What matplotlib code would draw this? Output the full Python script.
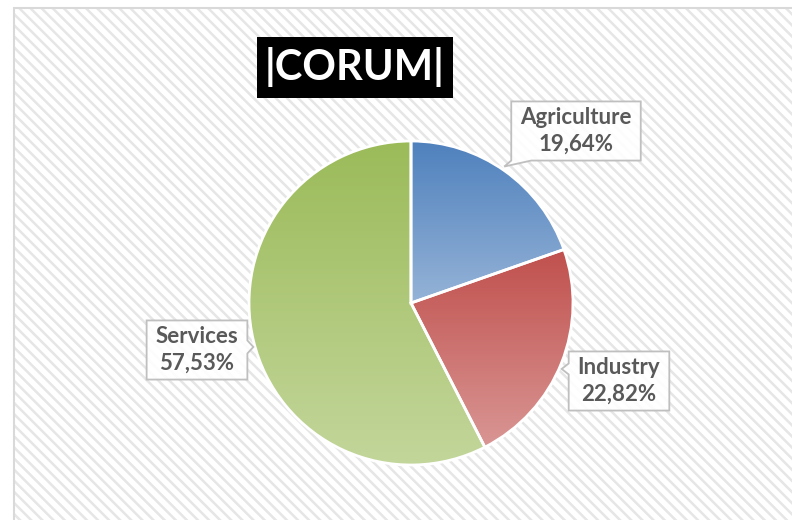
import numpy as np
import matplotlib.pyplot as plt
from matplotlib.colors import LinearSegmentedColormap
from matplotlib.patches import Rectangle, Polygon

# data
sectors = ['Agriculture', 'Industry', 'Services']
shares = [19.64, 22.82, 57.53]
share_labels = ['19,64%', '22,82%', '57,53%']
top_colors = ['#4F81BD', '#C0504D', '#9BBB59']
bottom_colors = ['#95B3D7', '#D99694', '#C3D69B']
title = '|CORUM|'

W, H = 792, 520
plt.rcParams['hatch.linewidth'] = 1.8
plt.rcParams['font.family'] = ['Lato', 'DejaVu Sans']

fig = plt.figure(figsize=(W / 100, H / 100), dpi=100)
ax = fig.add_axes([0, 0, 1, 1])

# chart area with diagonal stripes
ax.add_patch(Rectangle((14, -20), W, H - 8 + 20, facecolor='white',
                       edgecolor='#E6E6E6', hatch='\\\\\\', lw=0, zorder=0))
ax.add_patch(Rectangle((14, -20), W, H - 8 + 20, facecolor='none',
                       edgecolor='#D9D9D9', lw=1.5, zorder=0.5))

cx, cy, R = 411, 217, 162
wedges, _ = ax.pie(shares, center=(cx, cy), radius=R, startangle=90,
                   counterclock=False,
                   wedgeprops=dict(edgecolor='white', linewidth=2, zorder=2))
ax.set_xlim(0, W)
ax.set_ylim(0, H)
ax.set_aspect('auto')
ax.axis('off')

# vertical gradient inside each slice
grad = np.linspace(0, 1, 256).reshape(-1, 1)
inv = ax.transData.inverted()
for w, c0, c1 in zip(wedges, top_colors, bottom_colors):
    bb = w.get_window_extent().transformed(inv)
    cmap = LinearSegmentedColormap.from_list('g', [c0, c1])
    im = ax.imshow(grad, cmap=cmap, extent=(bb.x0, bb.x1, bb.y0, bb.y1),
                   origin='upper', aspect='auto', zorder=1)
    im.set_clip_path(w)
    w.set_facecolor('none')
ax.set_xlim(0, W)
ax.set_ylim(0, H)

# title box
ax.add_patch(Rectangle((257, H - 98), 196, 61, facecolor='black', zorder=3))
ax.text(355, H - 67, title, color='white', fontsize=30, fontweight='bold',
        ha='center', va='center', zorder=4)

# callout labels: center, side of pointer, pointer start/end along side, tip offset
layout = {
    'Agriculture': ((576, H - 131), 'bottom', 0, 20, (-7, -6)),
    'Industry': ((619, H - 381), 'left', 12, 23, (-7, 0)),
    'Services': ((197, H - 350), 'right', 20, 33, (6, 0)),
}

renderer = fig.canvas.get_renderer()
for name, lab in zip(sectors, share_labels):
    (x, y), side, a, b, (dx, dy) = layout[name]
    t = ax.text(x, y, name + '\n' + lab, color='#595959', fontsize=16,
                fontweight='bold', ha='center', va='center', linespacing=1.3,
                zorder=6)
    bb = t.get_window_extent(renderer).transformed(inv)
    x0, x1 = bb.x0 - 9, bb.x1 + 9
    y0, y1 = bb.y0 - 6, bb.y1 + 6
    if side == 'bottom':
        pts = [(x0, y1), (x0, y0), (x0 + a, y0), (x0 + a + dx, y0 + dy),
               (x0 + b, y0), (x1, y0), (x1, y1)]
    elif side == 'left':
        ym = (y1 - a + y1 - b) / 2
        pts = [(x0, y1), (x0, y1 - a), (x0 + dx, ym + dy), (x0, y1 - b),
               (x0, y0), (x1, y0), (x1, y1)]
    else:
        ym = (y1 - a + y1 - b) / 2
        pts = [(x0, y1), (x0, y0), (x1, y0), (x1, y1 - b),
               (x1 + dx, ym + dy), (x1, y1 - a), (x1, y1)]
    ax.add_patch(Polygon(pts, closed=True, facecolor='white', alpha=0.9,
                         edgecolor='none', zorder=4))
    ax.add_patch(Polygon(pts, closed=True, facecolor='none',
                         edgecolor='#BFBFBF', lw=1.3, zorder=5))

fig.savefig('out.png', dpi=100)
